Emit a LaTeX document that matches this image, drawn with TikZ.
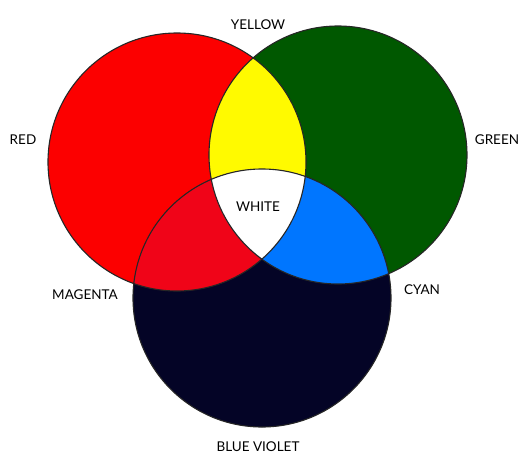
\documentclass[tikz,border=0pt]{standalone}
\usepackage{fontspec}
\setmainfont{Lato}
\definecolor{cred}{RGB}{252,0,0}
\definecolor{cgreen}{RGB}{0,88,0}
\definecolor{cviolet}{RGB}{4,4,38}
\definecolor{cyel}{RGB}{255,250,0}
\definecolor{ccyan}{RGB}{0,118,255}
\definecolor{cmag}{RGB}{240,4,24}
\begin{document}
\begin{tikzpicture}[x=1pt,y=-1pt,
  lbl/.style={font=\fontsize{13.5}{15}\selectfont, text=black, inner sep=0pt},
  rim/.style={draw=black!85, line width=1.1pt}]
\useasboundingbox (0,0) rectangle (531,456);
\def\R{129}
\coordinate (cR) at (177,162);
\coordinate (cG) at (338,155);
\coordinate (cB) at (262,298);
% base discs
\fill[cred] (cR) circle (\R);
\fill[cgreen] (cG) circle (\R);
\fill[cviolet] (cB) circle (\R);
% pairwise overlaps
\begin{scope}
  \clip (cR) circle (\R);
  \fill[cyel] (cG) circle (\R);
\end{scope}
\begin{scope}
  \clip (cR) circle (\R);
  \fill[cmag] (cB) circle (\R);
\end{scope}
\begin{scope}
  \clip (cG) circle (\R);
  \fill[ccyan] (cB) circle (\R);
\end{scope}
\begin{scope}
  \clip (cR) circle (\R);
  \clip (cG) circle (\R);
  \fill[white] (cB) circle (\R);
\end{scope}
% outlines
\draw[rim] (cR) circle (\R);
\draw[rim] (cG) circle (\R);
\draw[rim] (cB) circle (\R);
% labels
\node[lbl] (yellow) at (258,25) {YELLOW};
\node[lbl] (red) at (23,140) {RED};
\node[lbl] (green) at (497,140) {GREEN};
\node[lbl] (white) at (258,207) {WHITE};
\node[lbl] (magenta) at (85,295) {MAGENTA};
\node[lbl] (cyan) at (422,290) {CYAN};
\node[lbl] (blueviolet) at (258,447) {BLUE VIOLET};
\end{tikzpicture}
\end{document}
